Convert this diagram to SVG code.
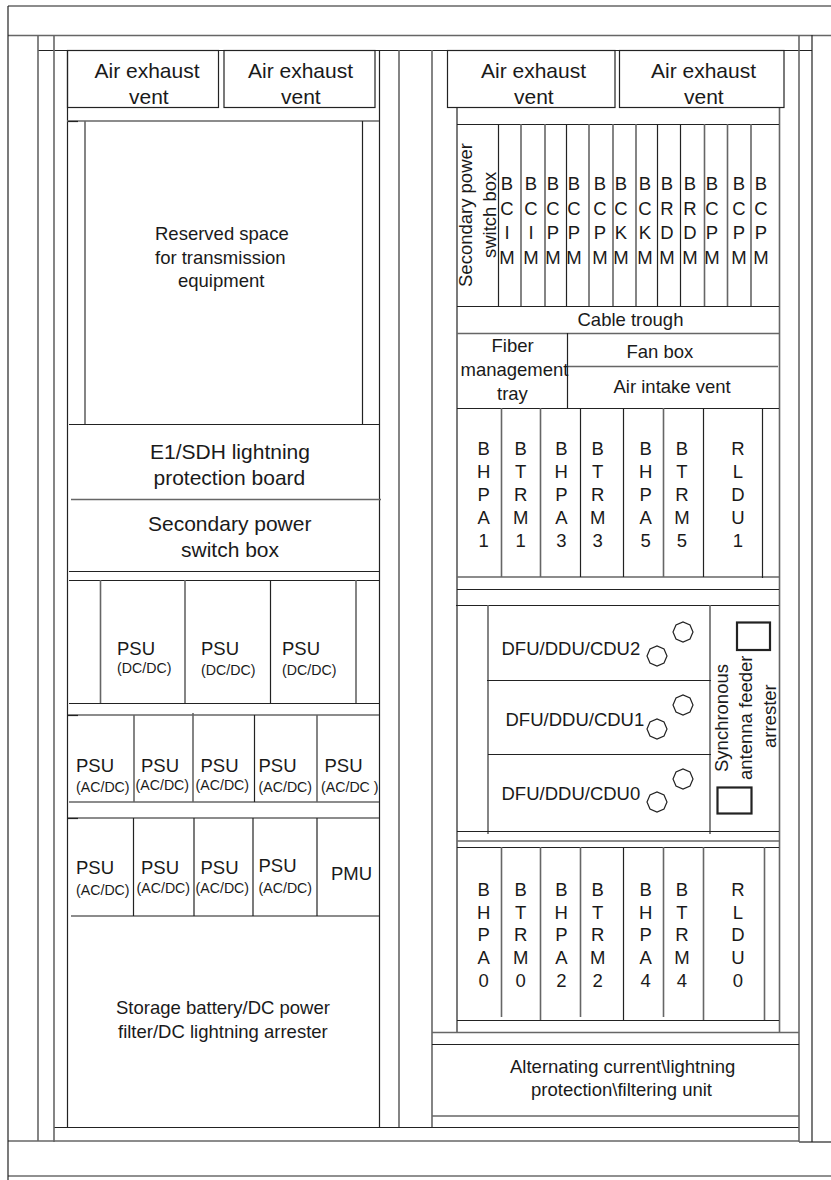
<svg xmlns="http://www.w3.org/2000/svg" width="831" height="1180" viewBox="0 0 831 1180">
<style>
text{font-family:"Liberation Sans",Arial,sans-serif;fill:#1a1a1a;font-size:18.5px}
.b{font-size:21px}.s{font-size:14.2px}
line,rect,polygon{fill:none;stroke:#222;stroke-width:1.2}
.g{stroke:#666;stroke-width:1.6}
.h{stroke:#222;stroke-width:2.2}
.m{text-anchor:middle}
</style>
<rect width="831" height="1180" style="fill:#fff;stroke:none"/>
<g id="frame">
<line class="g" x1="8" y1="6" x2="831" y2="6"/><line class="g" x1="8" y1="35.500" x2="831" y2="35.500"/>
<line x1="38" y1="50.500" x2="812" y2="50.500"/><line x1="54" y1="1127.500" x2="799" y2="1127.500"/>
<line class="g" x1="8" y1="1141" x2="799" y2="1141"/><line x1="799" y1="1142" x2="831" y2="1142"/><line x1="8" y1="1176" x2="831" y2="1176"/>
<line x1="8" y1="6" x2="8" y2="1180"/>
<line class="g" x1="38" y1="35" x2="38" y2="1141"/><line class="g" x1="54" y1="35" x2="54" y2="1142"/>
<line x1="67.500" y1="50" x2="67.500" y2="1127"/><line x1="379.500" y1="50" x2="379.500" y2="1127"/>
<line class="g" x1="399" y1="50" x2="399" y2="1127"/><line class="g" x1="432" y1="50" x2="432" y2="1127"/>
<line class="g" x1="799" y1="35" x2="799" y2="1142"/><line x1="812" y1="35" x2="812" y2="1142"/>
</g>
<g id="left-rack">
<line class="g" x1="67" y1="121" x2="379" y2="121"/><line x1="68" y1="121.500" x2="78" y2="121.500"/>
<line class="g" x1="85" y1="121" x2="85" y2="424"/><line x1="362.500" y1="121" x2="362.500" y2="424"/>
<line x1="69" y1="424.500" x2="379" y2="424.500"/><line class="g" x1="71" y1="499.500" x2="381" y2="499.500"/>
<line x1="69" y1="571.500" x2="379" y2="571.500"/><line x1="69" y1="580.500" x2="379" y2="580.500"/>
<line x1="69" y1="703.500" x2="379" y2="703.500"/><line class="g" x1="68" y1="715" x2="379" y2="715"/><line x1="68" y1="715.500" x2="78" y2="715.500"/>
<line class="g" x1="69" y1="802" x2="379" y2="802"/><line class="g" x1="68" y1="818" x2="379" y2="818"/><line x1="68" y1="818.500" x2="78" y2="818.500"/>
<line class="g" x1="71" y1="916" x2="379" y2="916"/>
<line class="g" x1="100.500" y1="580" x2="100.500" y2="703"/><line class="g" x1="185" y1="580" x2="185" y2="703"/><line x1="270.500" y1="580" x2="270.500" y2="703"/><line class="g" x1="356" y1="580" x2="356" y2="703"/>
<line class="g" x1="134" y1="715" x2="134" y2="802"/><line class="g" x1="193" y1="713" x2="193" y2="802"/><line x1="254.500" y1="715" x2="254.500" y2="802"/><line class="g" x1="317" y1="715" x2="317" y2="802"/>
<line x1="133.500" y1="818" x2="133.500" y2="916"/><line x1="194" y1="818" x2="194" y2="916"/><line x1="253" y1="818" x2="253" y2="916"/><line x1="317" y1="818" x2="317" y2="916"/>
</g>
<g id="right-rack">
<line x1="457" y1="107" x2="457" y2="1032"/><line class="g" x1="779.500" y1="107" x2="779.500" y2="1032"/>
<line x1="457" y1="124.500" x2="779" y2="124.500"/><line x1="457" y1="306.500" x2="779" y2="306.500"/><line class="g" x1="457" y1="333.500" x2="779" y2="333.500"/>
<line x1="567.500" y1="333" x2="567.500" y2="408"/><line class="g" x1="567" y1="366.500" x2="778" y2="366.500"/><line x1="457" y1="408.500" x2="779" y2="408.500"/>
<line class="g" x1="457" y1="577" x2="779" y2="577"/><line x1="457" y1="589.500" x2="779" y2="589.500"/><line x1="456" y1="605.500" x2="779" y2="605.500"/>
<line x1="498.500" y1="124" x2="498.500" y2="306"/><line class="g" x1="521" y1="124" x2="521" y2="306"/><line class="g" x1="545" y1="124" x2="545" y2="306"/><line x1="566.500" y1="124" x2="566.500" y2="306"/><line class="g" x1="589" y1="124" x2="589" y2="306"/><line class="g" x1="613" y1="124" x2="613" y2="306"/><line class="g" x1="636" y1="124" x2="636" y2="306"/><line x1="657.500" y1="124" x2="657.500" y2="306"/><line x1="680.500" y1="124" x2="680.500" y2="306"/><line class="g" x1="704.500" y1="124" x2="704.500" y2="306"/><line class="g" x1="727.500" y1="124" x2="727.500" y2="306"/><line class="g" x1="751" y1="124" x2="751" y2="306"/>
<line class="g" x1="501.500" y1="408" x2="501.500" y2="577"/><line class="g" x1="540.500" y1="408" x2="540.500" y2="577"/><line x1="580.500" y1="408" x2="580.500" y2="577"/><line x1="623.500" y1="408" x2="623.500" y2="577"/><line class="g" x1="663.500" y1="408" x2="663.500" y2="577"/><line x1="703.500" y1="408" x2="703.500" y2="577"/><line x1="762.500" y1="408" x2="762.500" y2="578"/>
<line class="g" x1="488" y1="605" x2="488" y2="834"/><line class="g" x1="710" y1="605" x2="710" y2="834"/>
<line x1="487" y1="680.500" x2="711" y2="680.500"/><line x1="488" y1="754.500" x2="711" y2="754.500"/>
<line x1="457" y1="831.500" x2="779" y2="831.500"/><line class="g" x1="457" y1="841" x2="779" y2="841"/><line x1="457" y1="847.500" x2="779" y2="847.500"/>
<line class="g" x1="501.500" y1="847" x2="501.500" y2="1017"/><line class="g" x1="540.500" y1="847" x2="540.500" y2="1020"/><line class="g" x1="580.500" y1="847" x2="580.500" y2="1017"/><line x1="623.500" y1="847" x2="623.500" y2="1020"/><line class="g" x1="663.500" y1="847" x2="663.500" y2="1017"/><line class="g" x1="703.500" y1="847" x2="703.500" y2="1020"/><line class="g" x1="764.500" y1="847" x2="764.500" y2="1020"/>
<line x1="457" y1="1020.500" x2="779" y2="1020.500"/><line class="g" x1="432" y1="1032.500" x2="799" y2="1032.500"/><line x1="432" y1="1044.500" x2="799" y2="1044.500"/><line class="g" x1="432" y1="1116" x2="799" y2="1116"/>
</g>
<g id="exhaust-1"><rect x="67.500" y="50.500" width="151" height="57"/><text class="b" x="94.500" y="78">Air exhaust</text><text class="b" x="129" y="104">vent</text></g>
<g id="exhaust-2"><rect x="224" y="50.500" width="151" height="57"/><text class="b" x="248" y="78">Air exhaust</text><text class="b" x="281" y="104">vent</text></g>
<g id="exhaust-3"><rect x="447.500" y="50.500" width="167.500" height="57"/><text class="b" x="481" y="78">Air exhaust</text><text class="b" x="514" y="104">vent</text></g>
<g id="exhaust-4"><rect x="619.500" y="50.500" width="164.500" height="57"/><text class="b" x="651" y="78">Air exhaust</text><text class="b" x="684" y="104">vent</text></g>
<g id="reserved"><text x="155" y="240">Reserved space</text><text x="155" y="264">for transmission</text><text x="178" y="287">equipment</text></g>
<g id="e1-sdh"><text class="b" x="150" y="459">E1/SDH lightning</text><text class="b" x="153.500" y="485">protection board</text></g>
<g id="switch-left"><text class="b" x="148" y="531">Secondary power</text><text class="b" x="181" y="557">switch box</text></g>
<g id="psu-dc">
<text x="117" y="655">PSU</text><text class="s" x="117" y="673">(DC/DC)</text>
<text x="201" y="655">PSU</text><text class="s" x="201" y="675">(DC/DC)</text>
<text x="282" y="655">PSU</text><text class="s" x="282" y="675">(DC/DC)</text>
</g>
<g id="psu-ac-top">
<text x="76" y="772">PSU</text><text class="s" x="76" y="792">(AC/DC)</text>
<text x="141" y="772">PSU</text><text class="s" x="135.500" y="790">(AC/DC)</text>
<text x="200.500" y="772">PSU</text><text class="s" x="195.500" y="790">(AC/DC)</text>
<text x="258.500" y="772">PSU</text><text class="s" x="258.500" y="792">(AC/DC)</text>
<text x="324.500" y="772">PSU</text><text class="s" x="321" y="792">(AC/DC )</text>
</g>
<g id="psu-ac-bottom">
<text x="76" y="874">PSU</text><text class="s" x="76" y="895">(AC/DC)</text>
<text x="141" y="874">PSU</text><text class="s" x="136.500" y="893">(AC/DC)</text>
<text x="200.500" y="874">PSU</text><text class="s" x="195.500" y="893">(AC/DC)</text>
<text x="258.500" y="872">PSU</text><text class="s" x="258.500" y="893">(AC/DC)</text>
<text x="331" y="880">PMU</text>
</g>
<g id="battery"><text x="116" y="1014">Storage battery/DC power</text><text x="118" y="1038">filter/DC lightning arrester</text></g>
<g id="switch-right"><text transform="translate(472 287) rotate(-90)">Secondary power</text><text transform="translate(496 258) rotate(-90)">switch box</text></g>
<g id="boards-top">
<text class="m" x="507" y="190">B</text><text class="m" x="507" y="215">C</text><text class="m" x="507" y="239">I</text><text class="m" x="507" y="264">M</text>
<text class="m" x="531" y="190">B</text><text class="m" x="531" y="215">C</text><text class="m" x="531" y="239">I</text><text class="m" x="531" y="264">M</text>
<text class="m" x="553" y="190">B</text><text class="m" x="553" y="215">C</text><text class="m" x="553" y="239">P</text><text class="m" x="553" y="264">M</text>
<text class="m" x="574" y="190">B</text><text class="m" x="574" y="215">C</text><text class="m" x="574" y="239">P</text><text class="m" x="574" y="264">M</text>
<text class="m" x="600" y="190">B</text><text class="m" x="600" y="215">C</text><text class="m" x="600" y="239">P</text><text class="m" x="600" y="264">M</text>
<text class="m" x="621" y="190">B</text><text class="m" x="621" y="215">C</text><text class="m" x="621" y="239">K</text><text class="m" x="621" y="264">M</text>
<text class="m" x="645" y="190">B</text><text class="m" x="645" y="215">C</text><text class="m" x="645" y="239">K</text><text class="m" x="645" y="264">M</text>
<text class="m" x="667" y="190">B</text><text class="m" x="667" y="215">R</text><text class="m" x="667" y="239">D</text><text class="m" x="667" y="264">M</text>
<text class="m" x="690" y="190">B</text><text class="m" x="690" y="215">R</text><text class="m" x="690" y="239">D</text><text class="m" x="690" y="264">M</text>
<text class="m" x="712" y="190">B</text><text class="m" x="712" y="215">C</text><text class="m" x="712" y="239">P</text><text class="m" x="712" y="264">M</text>
<text class="m" x="739" y="190">B</text><text class="m" x="739" y="215">C</text><text class="m" x="739" y="239">P</text><text class="m" x="739" y="264">M</text>
<text class="m" x="761" y="190">B</text><text class="m" x="761" y="215">C</text><text class="m" x="761" y="239">P</text><text class="m" x="761" y="264">M</text>
</g>
<g id="cable-trough"><text x="577.500" y="326">Cable trough</text></g>
<g id="fiber-tray"><text x="491.500" y="352">Fiber</text><text x="460.500" y="376">management</text><text x="497" y="400">tray</text></g>
<g id="fan-box"><text x="626.500" y="358">Fan box</text></g>
<g id="air-intake"><text x="613.500" y="393">Air intake vent</text></g>
<g id="boards-upper">
<text class="m" x="483.700" y="455">B</text><text class="m" x="483.700" y="478">H</text><text class="m" x="483.700" y="501">P</text><text class="m" x="483.700" y="524">A</text><text class="m" x="483.700" y="547">1</text>
<text class="m" x="520.700" y="455">B</text><text class="m" x="520.700" y="478">T</text><text class="m" x="520.700" y="501">R</text><text class="m" x="520.700" y="524">M</text><text class="m" x="520.700" y="547">1</text>
<text class="m" x="561.300" y="455">B</text><text class="m" x="561.300" y="478">H</text><text class="m" x="561.300" y="501">P</text><text class="m" x="561.300" y="524">A</text><text class="m" x="561.300" y="547">3</text>
<text class="m" x="597.700" y="455">B</text><text class="m" x="597.700" y="478">T</text><text class="m" x="597.700" y="501">R</text><text class="m" x="597.700" y="524">M</text><text class="m" x="597.700" y="547">3</text>
<text class="m" x="645.700" y="455">B</text><text class="m" x="645.700" y="478">H</text><text class="m" x="645.700" y="501">P</text><text class="m" x="645.700" y="524">A</text><text class="m" x="645.700" y="547">5</text>
<text class="m" x="682" y="455">B</text><text class="m" x="682" y="478">T</text><text class="m" x="682" y="501">R</text><text class="m" x="682" y="524">M</text><text class="m" x="682" y="547">5</text>
<text class="m" x="738" y="455">R</text><text class="m" x="738" y="478">L</text><text class="m" x="738" y="501">D</text><text class="m" x="738" y="524">U</text><text class="m" x="738" y="547">1</text>
</g>
<g id="dfu-2"><text x="501.500" y="655">DFU/DDU/CDU2</text><polygon points="693,632 690,639 683,642 676,639 673,632 676,625 683,622 690,625"/><polygon points="667,656 664,663 657,666 650,663 647,656 650,649 657,646 664,649"/></g>
<g id="dfu-1"><text x="505.500" y="726">DFU/DDU/CDU1</text><polygon points="693,705 690,712 683,715 676,712 673,705 676,698 683,695 690,698"/><polygon points="667,729 664,736 657,739 650,736 647,729 650,722 657,719 664,722"/></g>
<g id="dfu-0"><text x="501.500" y="800">DFU/DDU/CDU0</text><polygon points="693,779 690,786 683,789 676,786 673,779 676,772 683,769 690,772"/><polygon points="667,802 664,809 657,812 650,809 647,802 650,795 657,792 664,795"/></g>
<g id="arrester">
<rect class="h" x="737" y="622.500" width="33" height="27.500"/><rect class="h" x="717.500" y="787.500" width="34" height="26"/>
<text transform="translate(727.500 772) rotate(-90)">Synchronous</text><text transform="translate(751.500 780) rotate(-90)">antenna feeder</text><text transform="translate(776 748) rotate(-90)">arrester</text>
</g>
<g id="boards-lower">
<text class="m" x="483.700" y="896">B</text><text class="m" x="483.700" y="919">H</text><text class="m" x="483.700" y="941">P</text><text class="m" x="483.700" y="964">A</text><text class="m" x="483.700" y="987">0</text>
<text class="m" x="520.700" y="896">B</text><text class="m" x="520.700" y="919">T</text><text class="m" x="520.700" y="941">R</text><text class="m" x="520.700" y="964">M</text><text class="m" x="520.700" y="987">0</text>
<text class="m" x="561.300" y="896">B</text><text class="m" x="561.300" y="919">H</text><text class="m" x="561.300" y="941">P</text><text class="m" x="561.300" y="964">A</text><text class="m" x="561.300" y="987">2</text>
<text class="m" x="597.700" y="896">B</text><text class="m" x="597.700" y="919">T</text><text class="m" x="597.700" y="941">R</text><text class="m" x="597.700" y="964">M</text><text class="m" x="597.700" y="987">2</text>
<text class="m" x="645.700" y="896">B</text><text class="m" x="645.700" y="919">H</text><text class="m" x="645.700" y="941">P</text><text class="m" x="645.700" y="964">A</text><text class="m" x="645.700" y="987">4</text>
<text class="m" x="682" y="896">B</text><text class="m" x="682" y="919">T</text><text class="m" x="682" y="941">R</text><text class="m" x="682" y="964">M</text><text class="m" x="682" y="987">4</text>
<text class="m" x="738" y="896">R</text><text class="m" x="738" y="919">L</text><text class="m" x="738" y="941">D</text><text class="m" x="738" y="964">U</text><text class="m" x="738" y="987">0</text>
</g>
<g id="ac-unit"><text x="510" y="1073">Alternating current\lightning</text><text x="531" y="1096">protection\filtering unit</text></g>
</svg>
